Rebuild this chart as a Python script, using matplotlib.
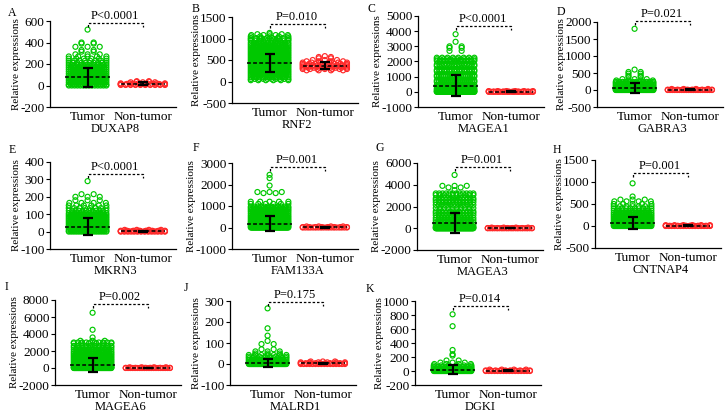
import numpy as np
import matplotlib.pyplot as plt

plt.rcParams['font.family'] = ['Liberation Serif', 'DejaVu Serif']
plt.rcParams['axes.unicode_minus'] = False

letters = ['A', 'B', 'C', 'D', 'E', 'F', 'G', 'H', 'I', 'J', 'K']
genes = ['DUXAP8', 'RNF2', 'MAGEA1', 'GABRA3', 'MKRN3', 'FAM133A',
         'MAGEA3', 'CNTNAP4', 'MAGEA6', 'MALRD1', 'DGKI']
p_labels = ['P<0.0001', 'P=0.010', 'P<0.0001', 'P=0.021', 'P<0.0001', 'P=0.001',
            'P=0.001', 'P=0.001', 'P=0.002', 'P=0.175', 'P=0.014']
y_ticks = [[-200, 0, 200, 400, 600],
           [-500, 0, 500, 1000, 1500],
           [-1000, 0, 1000, 2000, 3000, 4000, 5000],
           [-500, 0, 500, 1000, 1500, 2000],
           [-100, 0, 100, 200, 300, 400],
           [-1000, 0, 1000, 2000, 3000],
           [-2000, 0, 2000, 4000, 6000],
           [-500, 0, 500, 1000, 1500],
           [-2000, 0, 2000, 4000, 6000, 8000],
           [-100, 0, 100, 200, 300],
           [-200, 0, 200, 400, 600, 800, 1000]]

# (value, number of samples at about that value)
tumor_duxap8 = [(520, 1), (400, 2), (390, 2), (360, 3), (330, 2), (315, 2), (290, 3), (270, 5),
                (250, 6), (230, 8), (210, 10), (190, 14), (170, 18), (150, 20), (130, 22),
                (110, 22), (90, 24), (70, 24), (50, 24), (30, 22), (10, 20), (0, 14)]
normal_duxap8 = [(40, 2), (35, 2), (30, 3), (20, 6), (15, 8), (10, 10), (5, 10)]

tumor_rnf2 = [(1130, 1), (1100, 3), (1080, 4), (1050, 5), (1010, 8), (980, 9), (950, 10),
              (900, 12), (860, 14), (820, 16), (780, 18), (740, 20), (700, 22), (660, 24),
              (620, 24), (580, 26), (540, 26), (500, 26), (460, 26), (420, 26), (380, 26),
              (340, 24), (300, 24), (260, 22), (220, 20), (180, 18), (140, 16), (100, 14),
              (60, 10), (30, 6)]
normal_rnf2 = [(590, 1), (570, 2), (540, 2), (500, 3), (470, 4), (440, 6), (410, 8),
               (380, 10), (350, 10), (320, 9), (290, 7), (260, 4)]

tumor_magea1 = [(3800, 1), (3300, 1), (3000, 2), (2900, 2), (2700, 2), (2250, 8), (2150, 12),
                (2050, 14), (1800, 16), (1700, 14), (1450, 16), (1350, 16), (1100, 18),
                (1000, 18), (750, 20), (650, 20), (450, 22), (350, 22), (200, 24), (100, 28),
                (30, 40), (0, 60)]
normal_magea1 = [(50, 6), (20, 10), (0, 20)]

tumor_gabra3 = [(1800, 1), (600, 1), (530, 2), (480, 2), (420, 2), (380, 2), (320, 3), (280, 4),
                (240, 12), (200, 16), (160, 18), (120, 18), (80, 20), (40, 24), (10, 30), (0, 40)]
normal_gabra3 = [(30, 4), (10, 10), (0, 20)]

tumor_mkrn3 = [(290, 1), (215, 2), (200, 3), (180, 3), (165, 4), (150, 6), (135, 8), (120, 12),
               (105, 14), (95, 16), (85, 18), (75, 20), (65, 20), (55, 22), (45, 22), (35, 24),
               (25, 24), (15, 22), (5, 20), (0, 16)]
normal_mkrn3 = [(10, 4), (5, 8), (2, 12), (0, 14)]

tumor_fam133a = [(2450, 1), (2300, 1), (1950, 1), (1650, 3), (1600, 2), (1200, 5), (1100, 6),
                 (970, 12), (900, 14), (820, 16), (740, 18), (650, 20), (560, 22), (480, 24),
                 (400, 26), (320, 26), (250, 26), (180, 28), (110, 30), (50, 36), (0, 50)]
normal_fam133a = [(50, 4), (20, 8), (0, 18)]

tumor_magea3 = [(4900, 1), (3900, 3), (3750, 2), (3500, 1), (3200, 12), (3050, 10), (2750, 14),
                (2600, 12), (2400, 12), (2150, 14), (1850, 10), (1550, 14), (1400, 12),
                (1200, 14), (950, 14), (750, 14), (550, 16), (350, 18), (150, 24), (50, 36),
                (0, 60)]
normal_magea3 = [(60, 4), (20, 10), (0, 20)]

tumor_cntnap4 = [(970, 1), (670, 1), (600, 3), (560, 4), (500, 5), (450, 7), (400, 10), (350, 14),
                 (300, 16), (260, 18), (220, 20), (180, 22), (140, 24), (100, 26), (60, 28),
                 (30, 30), (0, 40)]
normal_cntnap4 = [(20, 6), (5, 12), (0, 16)]

tumor_magea6 = [(6500, 1), (4500, 1), (3600, 1), (3200, 3), (3000, 10), (2900, 6), (2600, 10),
                (2400, 14), (2150, 14), (1900, 16), (1700, 18), (1500, 20), (1300, 22),
                (1100, 22), (900, 24), (700, 26), (500, 28), (300, 30), (150, 36), (50, 40),
                (0, 60)]
normal_magea6 = [(80, 4), (20, 10), (0, 20)]

tumor_malrd1 = [(265, 1), (170, 1), (135, 1), (110, 1), (95, 2), (70, 2), (60, 3), (50, 3),
                (43, 7), (35, 8), (28, 10), (20, 14), (12, 20), (6, 30), (0, 60)]
normal_malrd1 = [(12, 3), (8, 6), (4, 10), (0, 16)]

tumor_dgki = [(810, 1), (640, 1), (300, 1), (240, 1), (220, 1), (150, 2), (120, 3), (100, 4),
              (80, 6), (60, 10), (40, 16), (25, 24), (12, 32), (0, 50)]
normal_dgki = [(20, 4), (8, 10), (0, 16)]

tumor_levels = [tumor_duxap8, tumor_rnf2, tumor_magea1, tumor_gabra3, tumor_mkrn3, tumor_fam133a,
                tumor_magea3, tumor_cntnap4, tumor_magea6, tumor_malrd1, tumor_dgki]
normal_levels = [normal_duxap8, normal_rnf2, normal_magea1, normal_gabra3, normal_mkrn3,
                 normal_fam133a, normal_magea3, normal_cntnap4, normal_magea6, normal_malrd1,
                 normal_dgki]

tumor_mean = [75, 430, 400, 50, 28, 180, 450, 75, 350, 4, 18]
tumor_sd = [86, 200, 700, 150, 48, 360, 910, 140, 780, 20, 65]
normal_mean = [18, 370, 10, 5, 3, 10, 10, 5, 10, 3, 5]
normal_sd = [15, 75, 20, 10, 3, 20, 30, 8, 40, 3, 8]

# layout in figure pixels: y-axis x position, top and bottom of the y-axis
axis_px = [(50, 21, 107), (232, 17, 103), (418, 16, 107), (597, 22, 107),
           (50, 162, 249), (232, 163, 249), (417, 163, 250), (595, 160, 248),
           (55, 300, 385), (230, 301, 385), (415, 301, 385)]
letter_px = [(8, 13), (192, 9), (368, 9), (557, 12), (9, 150), (193, 148), (375, 148),
             (553, 150), (5, 287), (184, 288), (366, 289)]
bracket_frac = [0.977, 0.92, 0.89, 1.01, 0.86, 0.95, 0.95, 0.85, 0.95, 0.99, 0.94]

W, H = 725, 416
green = '#00c800'
red = '#ff2a2a'


def swarm(levels, center, half_width, step=0.22):
    xs, ys = [], []
    for value, count in levels:
        gap = step if count < 2 else min(step, 2 * half_width / (count - 1))
        offsets = (np.arange(count) - (count - 1) / 2) * gap
        xs.extend(center + offsets)
        ys.extend([value] * count)
    return np.array(xs), np.array(ys)


fig = plt.figure(figsize=(W / 100, H / 100), dpi=100)

for i in range(len(genes)):
    left, top, bottom = axis_px[i]
    ax = fig.add_axes([left / W, 1 - bottom / H, 126 / W, (bottom - top) / H])
    ticks = y_ticks[i]
    ax.set_ylim(ticks[0], ticks[-1])
    ax.set_xlim(-0.68, 1.6)

    for c, levels, color, hw in [(0, tumor_levels[i], green, 0.34),
                                 (1, normal_levels[i], red, 0.4)]:
        x, y = swarm(levels, c, hw)
        ax.scatter(x, y, s=13, facecolors='none', edgecolors=color, linewidths=0.85,
                   clip_on=False, zorder=2)

    for c, m, sd in [(0, tumor_mean[i], tumor_sd[i]), (1, normal_mean[i], normal_sd[i])]:
        ax.plot([c - 0.4, c + 0.4], [m, m], color='k', lw=1.1, ls=(0, (2.5, 1.5)), zorder=3)
        ax.errorbar(c, m, yerr=sd, color='k', capsize=3.5, elinewidth=1.6, capthick=1.6,
                    zorder=4)

    # significance bracket
    span = ticks[-1] - ticks[0]
    yb = ticks[0] + bracket_frac[i] * span
    drop = 4 / (bottom - top) * span
    ax.plot([0, 0, 1, 1], [yb - drop, yb, yb, yb - drop], color='k', lw=0.9,
            ls=(0, (2, 1.5)), clip_on=False)
    ax.text(0.5, yb + 0.01 * span, p_labels[i], ha='center', va='bottom', fontsize=9)

    ax.set_yticks(ticks)
    ax.set_xticks([0, 1])
    ax.set_xticklabels(['Tumor', 'Non-tumor'], fontsize=9.5)
    ax.tick_params(axis='x', length=0, pad=3)
    ax.tick_params(axis='y', length=3, width=0.8, pad=1, labelsize=9.5)
    ax.set_ylabel('Relative expressions', fontsize=8, labelpad=-0.5)
    for s in ['top', 'right']:
        ax.spines[s].set_visible(False)
    for s in ['left', 'bottom']:
        ax.spines[s].set_linewidth(0.9)
    ax.annotate(genes[i], xy=(0.5, 0), xycoords=('data', 'axes fraction'),
                xytext=(0, -11.5), textcoords='offset points', ha='center', va='top',
                fontsize=9)

    lx, ly = letter_px[i]
    fig.text(lx / W, 1 - ly / H, letters[i], fontsize=8.5, ha='left', va='center')

fig.savefig('out.png', dpi=100)
